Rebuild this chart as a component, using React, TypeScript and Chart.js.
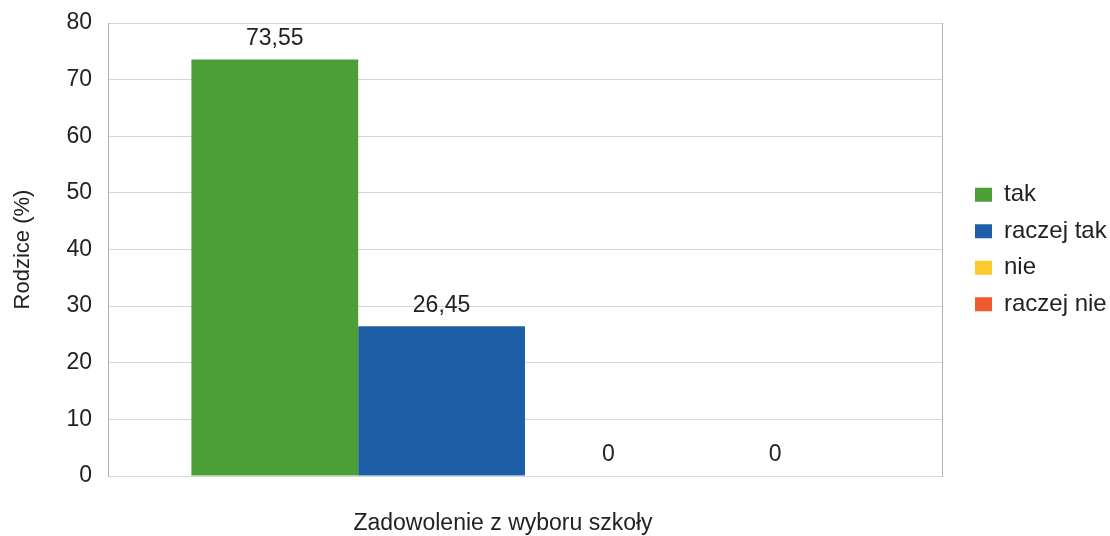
import React, { useEffect, useRef } from "react";
import { Chart, registerables } from "chart.js";

Chart.register(...registerables);

const categories = ["Zadowolenie z wyboru szkoły"];
const seriesNames = ["tak", "raczej tak", "nie", "raczej nie"];
const seriesValues = [[73.55], [26.45], [0], [0]];
const seriesColors = ["#4c9e37", "#1e5ea6", "#fcc92e", "#ef5a30"];
const yTicks = [0, 10, 20, 30, 40, 50, 60, 70, 80];

const FONT = "'Liberation Sans', Arial, sans-serif";

const valueLabels = {
  id: "valueLabels",
  afterDatasetsDraw(chart: any) {
    const ctx = chart.ctx;
    ctx.save();
    ctx.font = `23px ${FONT}`;
    ctx.fillStyle = "#222";
    ctx.textAlign = "center";
    ctx.textBaseline = "middle";
    chart.data.datasets.forEach((ds: any, i: number) => {
      const meta = chart.getDatasetMeta(i);
      meta.data.forEach((bar: any, j: number) => {
        const v = ds.data[j];
        ctx.fillText(String(v).replace(".", ","), bar.x, bar.y - 21);
      });
    });
    ctx.restore();
  },
};

export default function App() {
  const ref = useRef<HTMLCanvasElement>(null);
  useEffect(() => {
    if (!ref.current) return;
    const chart = new Chart(ref.current, {
      type: "bar",
      data: {
        labels: categories,
        datasets: seriesNames.map((n, i) => ({
          label: n,
          data: seriesValues[i],
          backgroundColor: seriesColors[i],
          borderWidth: 0,
          categoryPercentage: 0.8,
          barPercentage: 1.0,
          yAxisID: "y",
        })),
      },
      options: {
        responsive: false,
        animation: false,
        layout: { padding: { top: 23, bottom: 0, left: 0, right: 0 } },
        plugins: {
          tooltip: { enabled: false },
          legend: {
            position: "right",
            align: "center",
            fullSize: false,
            maxWidth: 147.5,
            labels: {
              boxWidth: 17,
              boxHeight: 14,
              padding: 12.5,
              color: "#222",
              font: { family: FONT, size: 24 },
            },
          },
        },
        scales: {
          x: {
            afterFit: (scale: any) => {
              scale.height = 60;
            },
            grid: { display: false, drawTicks: false },
            border: { display: false },
            ticks: {
              padding: 34,
              labelOffset: -22,
              maxRotation: 0,
              color: "#222",
              font: { family: FONT, size: 23 },
            },
          },
          y: {
            min: 0,
            max: 80,
            afterBuildTicks: (scale: any) => {
              scale.ticks = yTicks.map((v) => ({ value: v }));
            },
            afterFit: (scale: any) => {
              scale.width = 108;
              scale.paddingTop = 0;
              scale.paddingBottom = 0;
            },
            grid: { color: "#d6d6d6", lineWidth: 1, drawTicks: false },
            border: { display: true, color: "#b0b0b0" },
            ticks: {
              padding: 16,
              color: "#222",
              font: { family: FONT, size: 23 },
            },
            title: {
              display: true,
              text: "Rodzice (%)",
              color: "#222",
              padding: { top: 10, bottom: 0 },
              font: { family: FONT, size: 22 },
            },
          },
          y2: {
            position: "right",
            display: true,
            afterFit: (scale: any) => {
              scale.width = 20.5;
              scale.paddingTop = 0;
              scale.paddingBottom = 0;
            },
            grid: { drawOnChartArea: false, drawTicks: false },
            border: { display: true, color: "#b0b0b0" },
            ticks: { display: false },
          },
        },
      },
      plugins: [valueLabels],
    });
    return () => chart.destroy();
  }, []);
  return (
    <div style={{ position: "absolute", left: 0, top: 0, width: 1110, height: 536, background: "#fff" }}>
      <canvas ref={ref} width={1110} height={536} />
    </div>
  );
}
